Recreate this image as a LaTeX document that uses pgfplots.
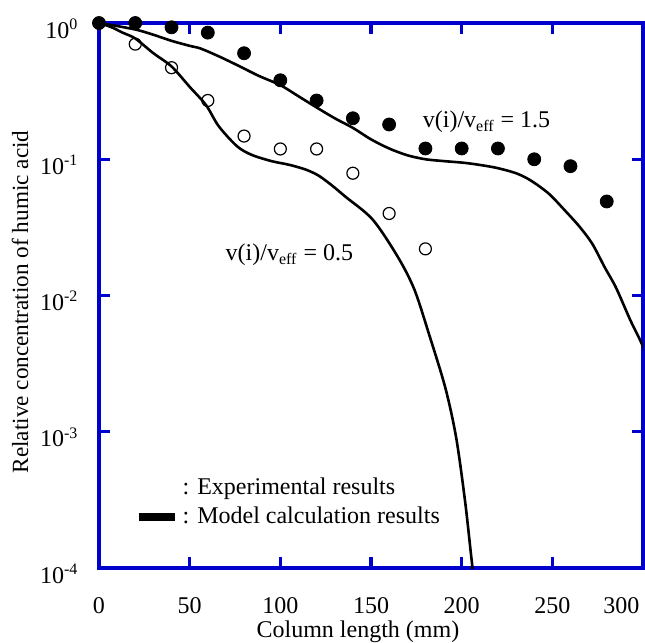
\documentclass[border=0pt]{standalone}
\usepackage{fontspec}
\setmainfont{Liberation Serif}
\usepackage{pgfplots}
\pgfplotsset{compat=1.18}
\definecolor{axblue}{RGB}{0,0,204}
\begin{document}
\fontsize{12}{14.4}\selectfont
\begin{tikzpicture}[font=\fontsize{12}{14.4}\selectfont]
\begin{axis}[
  name=ax,
  scale only axis,
  width=272pt, height=272.5pt,
  xmin=0, xmax=300,
  ymode=log, ymin=1e-4, ymax=1,
  line width=1.6pt,
  axis line style={axblue, line width=1.6pt},
  tick style={axblue, line width=1.6pt},
  major tick length=5.5pt,
  tick align=inside,
  xtick pos=both, ytick pos=both,
  yminorticks=false,
  xtick={0,50,100,150,200,250},
  xticklabels={0,50,100,150,200,250},
  extra x ticks={300},
  extra x tick labels={300},
  extra x tick style={major tick length=0pt, xticklabel style={anchor=base east, xshift=-1pt}},
  xticklabel style={anchor=base, yshift=-22.5pt, inner sep=0pt},
  ytick={1e-4,1e-3,1e-2,1e-1,1},
  yticklabels={10\textsuperscript{-4},10\textsuperscript{-3},10\textsuperscript{-2},10\textsuperscript{-1},10\textsuperscript{0}},
  yticklabel style={anchor=base east, xshift=-9.5pt, yshift=-7.5pt, inner sep=0pt},
  xlabel={Column length (mm)},
  ylabel={Relative concentration of humic acid},
  xlabel style={at={(axis description cs:0.476,-0.117)}, anchor=center},
  ylabel style={at={(axis description cs:-0.145,0.488)}, anchor=center, font=\fontsize{11.6}{14}\selectfont},
  legend style={draw=none, fill=none, at={(axis description cs:0.0625,0.176)}, anchor=north west,
    inner sep=0pt, row sep=0.5pt, font=\fontsize{12}{14.4}\selectfont},
  legend cell align=left,
]
\addlegendimage{empty legend}
\addlegendentry{: Experimental results}
\addlegendimage{black, line width=4pt, legend image code/.code={\draw[black, line width=4pt] (0pt,0pt) -- (18pt,0pt);}}
\addlegendentry{: Model calculation results}

% model curve v(i)/veff = 0.5
\addplot[black, line width=1.3pt, smooth, forget plot] coordinates {
(0,1) (7,0.93) (13,0.85) (20,0.77) (30,0.6) (40,0.48) (50,0.34) (59,0.25) (66,0.175)
(76,0.125) (84,0.108) (95,0.097) (105,0.091) (114,0.084) (121,0.076) (128,0.065)
(136,0.053) (151,0.036) (165,0.019) (174,0.011) (182,0.0052) (191,0.0021)
(197,0.0009) (202,0.0003) (206,0.0001) (208,0.00007)
};
% model curve v(i)/veff = 1.5
\addplot[black, line width=1.3pt, smooth, forget plot] coordinates {
(0,1) (10,0.95) (21,0.89) (30,0.82) (40,0.74) (50,0.68) (56,0.65) (66,0.57) (77,0.485)
(88,0.41) (100,0.35) (110,0.29) (120,0.24) (130,0.2) (140,0.17) (150,0.14) (160,0.12)
(170,0.107) (180,0.1) (190,0.097) (202,0.094) (212,0.09) (220,0.086) (230,0.079)
(238,0.07) (248,0.056) (257,0.042) (265,0.032) (272,0.024) (279,0.016) (285,0.0115)
(293,0.0066) (300,0.0042) (305,0.0025)
};
% experimental, 1.5 (filled)
\addplot[only marks, mark=*, mark size=3.25pt, black, line width=0.4pt, forget plot] coordinates {
(0,1) (20,1.0) (40,0.93) (60,0.85) (80,0.6) (100,0.38) (120,0.27) (140,0.2) (160,0.18)
(180,0.12) (200,0.12) (220,0.12) (240,0.1) (260,0.089) (280,0.049)
};
% experimental, 0.5 (open)
\addplot[only marks, mark=o, mark size=3pt, black, line width=0.6pt, forget plot] coordinates {
(20,0.7) (40,0.47) (60,0.27) (80,0.148) (100,0.119) (120,0.119) (140,0.079) (160,0.04) (180,0.022)
};
\node at (axis cs:213.7,0.1876) {v(i)/v\textsubscript{eff} = 1.5};
\node at (axis cs:105,0.0199) {v(i)/v\textsubscript{eff} = 0.5};
\end{axis}
\pgfresetboundingbox
\path ([shift={(-49.5pt,-37pt)}]ax.south west) rectangle ([shift={(1pt,11.5pt)}]ax.north east);
\end{tikzpicture}
\end{document}
